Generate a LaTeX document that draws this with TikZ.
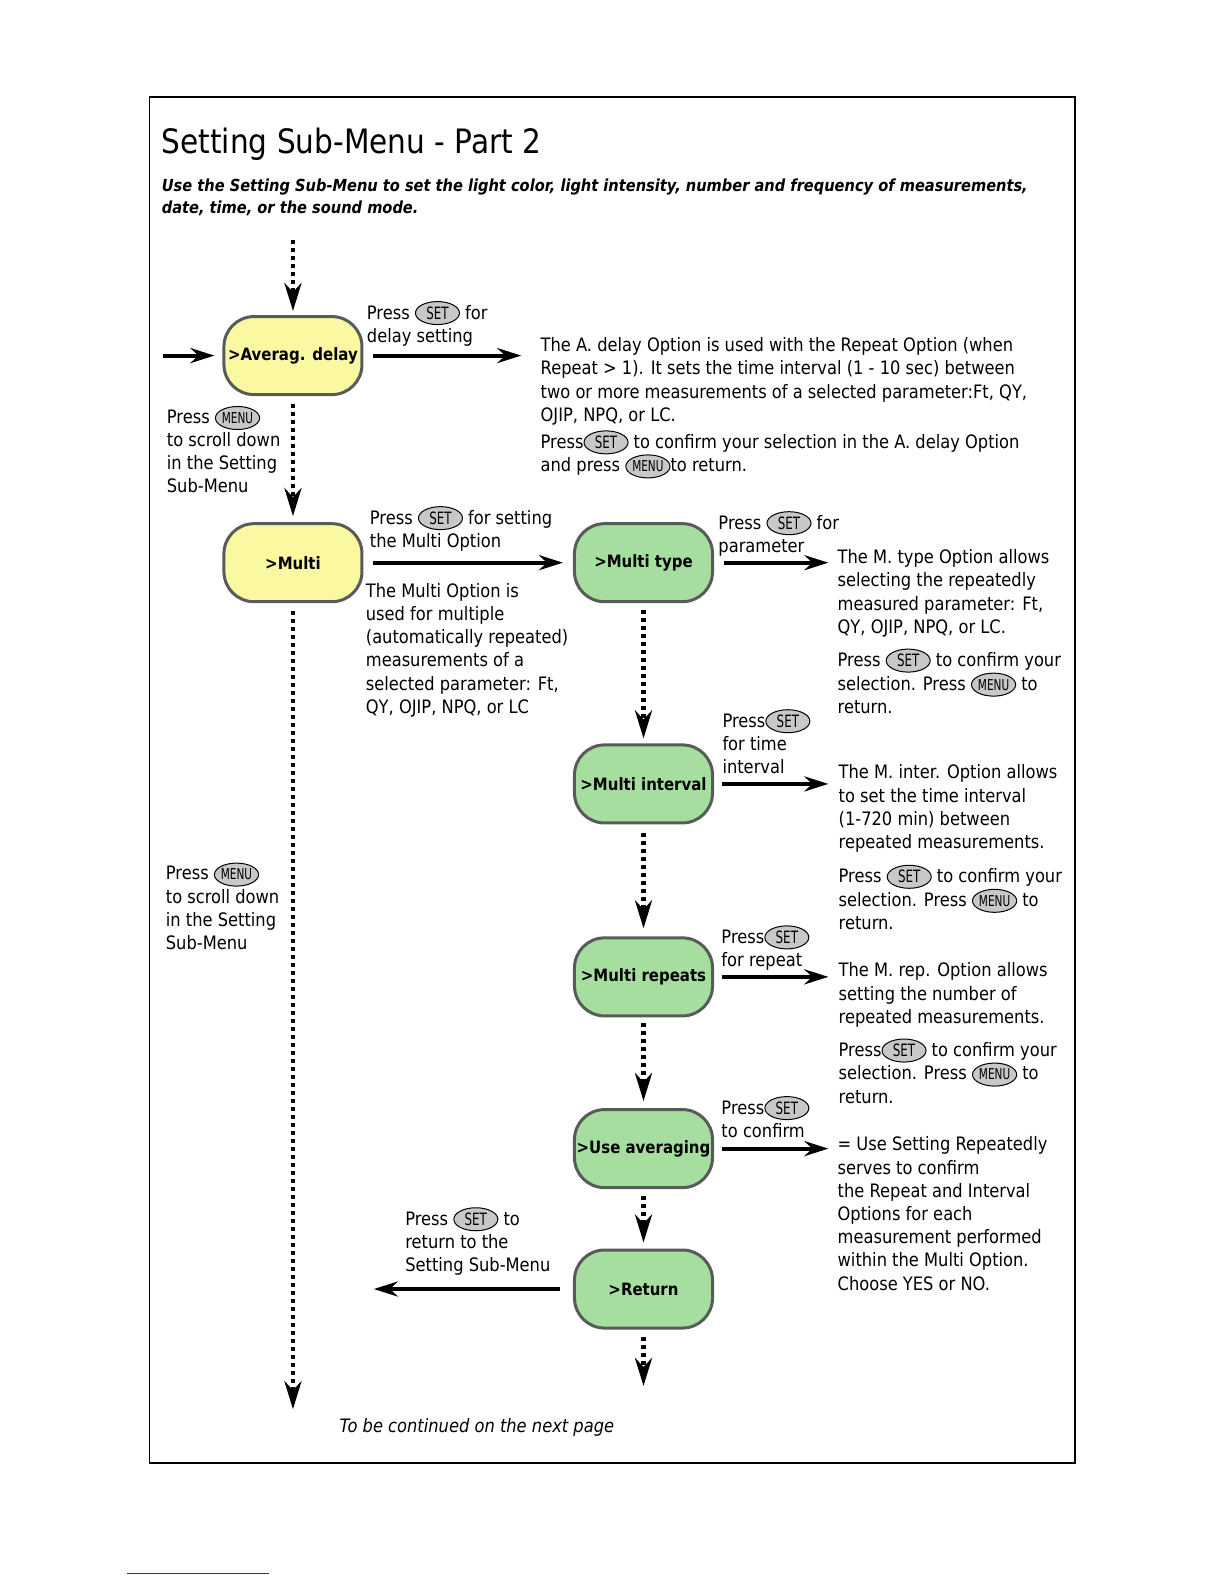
\documentclass[tikz,border=0pt]{standalone}
\usepackage{fontspec}
\setmainfont{DejaVu Sans}[FakeStretch=0.88]
\newfontfamily\btnfont{DejaVu Sans}[FakeStretch=0.7]
\usetikzlibrary{arrows.meta,shapes.geometric}
\definecolor{nodeyellow}{RGB}{250,248,160}
\definecolor{nodegreen}{RGB}{166,222,160}
\definecolor{nodeedge}{RGB}{88,92,88}
\definecolor{btngray}{RGB}{200,200,200}
\definecolor{footblue}{RGB}{40,40,210}
\tikzset{
 menubox/.style={draw=nodeedge, line width=3pt, rounded corners=30pt, minimum width=138pt, minimum height=78pt, inner sep=0pt, font=\bfseries\fontsize{17}{20}\selectfont, align=center},
 yel/.style={menubox, fill=nodeyellow},
 grn/.style={menubox, fill=nodegreen},
 btn/.style={ellipse, draw=black, line width=1pt, fill=btngray, minimum width=44pt, minimum height=23pt, inner sep=0pt, font=\btnfont\fontsize{17}{17}\selectfont},
 txt/.style={anchor=base west, align=left, inner sep=0pt, font=\fontsize{18.5}{23.2}\selectfont},
 flow/.style={line width=4pt, -{Stealth[length=24pt,width=15pt,inset=8pt]}},
 dots/.style={line width=4.5pt, dash pattern=on 4pt off 4pt, -{Stealth[length=28pt,width=17pt,inset=9pt]}},
}
\newcommand\SETb{\tikz[baseline=(sb.base)]\node[btn](sb){SET};}
\newcommand\MENUb{\tikz[baseline=(mb.base)]\node[btn,font=\btnfont\fontsize{15}{15}\selectfont](mb){MENU};}
\begin{document}
\begin{tikzpicture}[x=1.0099pt,y=-1.0099pt]
\useasboundingbox (0,0) rectangle (1212,1568);
\draw[line width=1.5pt] (148,96) rectangle (1064,1448);
\draw[footblue, line width=1pt] (126,1558) -- (266,1558);

% title
\node[anchor=base west, inner sep=0pt, font=\fontsize{33.6}{36}\selectfont] (title) at (160,152) {Setting Sub-Menu - Part 2};
\node[anchor=base west, align=left, inner sep=0pt, font=\bfseries\itshape\fontsize{16.6}{21.2}\selectfont] (subtitle) at (160,211)
 {Use the Setting Sub-Menu to set the light color, light intensity, number and frequency of measurements,\\date, time, or the sound mode.};

% menu nodes
\node[yel] (avg) at (290,352) {>Averag. delay};
\node[yel] (multi) at (290,557) {>Multi};
\node[grn] (mtype) at (637,557) {>Multi type};
\node[grn] (mint) at (637,776) {>Multi interval};
\node[grn] (mrep) at (637,967) {>Multi repeats};
\node[grn] (useavg) at (637,1137) {>Use averaging};
\node[grn] (ret) at (637,1276) {>Return};

% free ends
\coordinate (topin) at (290,238);
\coordinate (leftin) at (161,352);
\coordinate (avgout) at (516,352);
\coordinate (multiend) at (290,1395);
\coordinate (mtypeout) at (820,557);
\coordinate (mintout) at (820,776);
\coordinate (mrepout) at (820,967);
\coordinate (useavgout) at (820,1137);
\coordinate (retout) at (370,1276);
\coordinate (retend) at (637,1372);

% connectors
\draw[dots, shorten >=4pt] (topin) -- (avg.north);
\draw[flow, shorten >=8pt] (leftin) -- (avg.west);
\draw[flow, shorten <=10pt] (avg.east) -- (avgout);
\draw[dots, shorten <=8pt, shorten >=6pt] (avg.south) -- (multi.north);
\draw[flow, shorten <=10pt, shorten >=10pt] (multi.east) -- (mtype.west);
\draw[dots, shorten <=8pt] (multi.south) -- (multiend);
\draw[flow, shorten <=10pt] (mtype.east) -- (mtypeout);
\draw[dots, shorten <=7pt, shorten >=5pt] (mtype.south) -- (mint.north);
\draw[flow, shorten <=8pt] (mint.east) -- (mintout);
\draw[dots, shorten <=9pt, shorten >=8pt] (mint.south) -- (mrep.north);
\draw[flow, shorten <=8pt] (mrep.east) -- (mrepout);
\draw[dots, shorten <=6pt, shorten >=7pt] (mrep.south) -- (useavg.north);
\draw[flow, shorten <=8pt] (useavg.east) -- (useavgout);
\draw[dots, shorten <=7pt, shorten >=6pt] (useavg.south) -- (ret.north);
\draw[flow, shorten <=13pt] (ret.west) -- (retout);
\draw[dots, shorten <=7pt] (ret.south) -- (retend);

% texts (anchor = baseline of the last line)
\node[txt] (t1) at (363,339) {Press \SETb\ for\\delay setting};
\node[txt] (t2) at (535,417) {The A. delay Option is used with the Repeat Option (when\\Repeat > 1). It sets the time interval (1 - 10 sec) between\\two or more measurements of a selected parameter:Ft, QY,\\OJIP, NPQ, or LC.};
\node[txt] (t3) at (535,467) {Press\SETb\ to confirm your selection in the A. delay Option\\and press \MENUb to return.};
\node[txt] (t4) at (165,488) {Press \MENUb\\to scroll down\\in the Setting\\Sub-Menu};
\node[txt] (t5) at (366,542) {Press \SETb\ for setting\\the Multi Option};
\node[txt] (t6) at (362,706) {The Multi Option is\\used for multiple\\(automatically repeated)\\measurements of a\\selected parameter: Ft,\\QY, OJIP, NPQ, or LC};
\node[txt] (t7) at (711,547) {Press \SETb\ for\\parameter};
\node[txt] (t8) at (829,627) {The M. type Option allows\\selecting the repeatedly\\measured parameter: Ft,\\QY, OJIP, NPQ, or LC.};
\node[txt] (t9) at (829,706) {Press \SETb\ to confirm your\\selection. Press \MENUb\ to\\return.};
\node[txt] (t10) at (715,766) {Press\SETb\\for time\\interval};
\node[txt] (t11) at (830,840) {The M. inter. Option allows\\to set the time interval\\(1-720 min) between\\repeated measurements.};
\node[txt] (t12) at (830,920) {Press \SETb\ to confirm your\\selection. Press \MENUb\ to\\return.};
\node[txt] (t13) at (164,940) {Press \MENUb\\to scroll down\\in the Setting\\Sub-Menu};
\node[txt] (t14) at (714,957) {Press\SETb\\for repeat};
\node[txt] (t15) at (830,1013) {The M. rep. Option allows\\setting the number of\\repeated measurements.};
\node[txt] (t16) at (830,1092) {Press\SETb\ to confirm your\\selection. Press \MENUb\ to\\return.};
\node[txt] (t17) at (714,1126) {Press\SETb\\to confirm};
\node[txt] (t18) at (829,1277) {= Use Setting Repeatedly\\serves to confirm\\the Repeat and Interval\\Options for each\\measurement performed\\within the Multi Option.\\Choose YES or NO.};
\node[txt] (t19) at (401,1259) {Press \SETb\ to\\return to the\\Setting Sub-Menu};
\node[txt, font=\itshape\fontsize{18.5}{23.2}\selectfont] (t20) at (336,1418) {To be continued on the next page};
\end{tikzpicture}
\end{document}
